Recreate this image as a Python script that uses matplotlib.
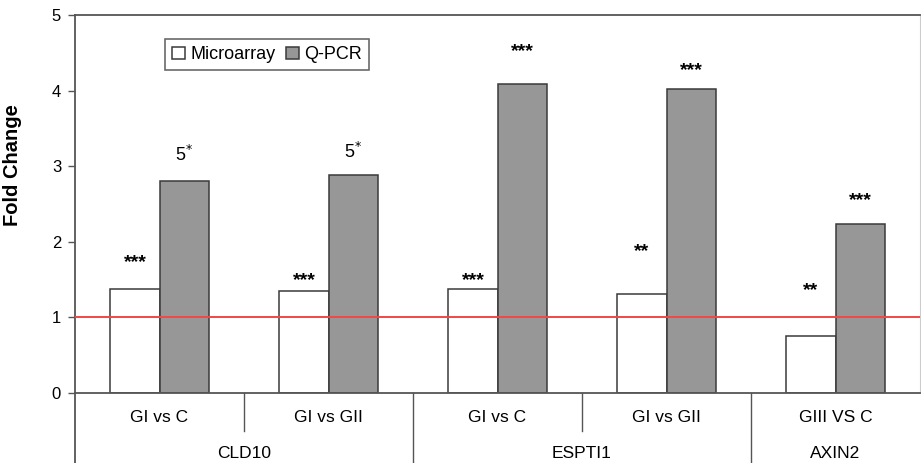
import matplotlib
matplotlib.use("Agg")
import matplotlib.pyplot as plt

plt.rcParams['font.family'] = ['Liberation Sans', 'DejaVu Sans']

# Données
genes = ['CLD10', 'ESPTI1', 'AXIN2']
genes_span = [2, 2, 1]
comparaisons = ['GI vs C', 'GI vs GII', 'GI vs C', 'GI vs GII', 'GIII VS C']
microarray = [1.38, 1.35, 1.37, 1.31, 0.76]
qpcr = [2.80, 2.88, 4.09, 4.02, 2.23]
sig_micro = ['***', '***', '***', '**', '**']
sig_qpcr = ['5$^{*}$', '5$^{*}$', '***', '***', '***']
# hauteurs des annotations (en unités de l'axe)
y_sig_micro = [1.80, 1.55, 1.55, 1.94, 1.43]
y_sig_qpcr = [3.15, 3.19, 4.59, 4.33, 2.61]

W, H = 921, 463
fig = plt.figure(figsize=(W / 100, H / 100), dpi=100)
ax = fig.add_axes([75 / W, (H - 393) / H, 845 / W, 378 / H])

largeur = 0.29
x = [i + 0.5 for i in range(len(comparaisons))]
x_micro = [c - largeur / 2 for c in x]
x_qpcr = [c + largeur / 2 for c in x]

ax.bar(x_micro, microarray, width=largeur, color='white', edgecolor='#3a3a3a',
       linewidth=1.1, label='Microarray', zorder=2)
ax.bar(x_qpcr, qpcr, width=largeur, color='#979797', edgecolor='#3a3a3a',
       linewidth=1.1, label='Q-PCR', zorder=2)

ax.axhline(1, color='#f04848', linewidth=1.4, zorder=3)

# étoiles : ligne de base décalée pour centrer l'astérisque sur la hauteur lue
for xm, ym, s in zip(x_micro, y_sig_micro, sig_micro):
    ax.annotate(s, (xm, ym), xytext=(0, -7), textcoords='offset points',
                ha='center', va='baseline', fontsize=14, fontweight='bold')
for xq, yq, s in zip(x_qpcr, y_sig_qpcr, sig_qpcr):
    if s.startswith('5'):
        ax.text(xq, yq, s, ha='center', va='center', fontsize=13)
    else:
        ax.annotate(s, (xq, yq), xytext=(0, -7), textcoords='offset points',
                    ha='center', va='baseline', fontsize=14, fontweight='bold')

ax.set_xlim(0, len(comparaisons))
ax.set_ylim(0, 5)
ax.set_yticks(range(6))
ax.tick_params(axis='y', direction='out', length=5, width=1, color='#555555',
               labelsize=12, pad=5)
ax.set_xticks([])
ax.set_ylabel('Fold Change', fontsize=14.5, fontweight='bold')
ax.yaxis.set_label_coords(-0.063, 0.603)

for cote in ['left', 'bottom', 'top']:
    ax.spines[cote].set_color('#555555')
    ax.spines[cote].set_linewidth(1.3)
ax.spines['right'].set_color('#cccccc')
ax.spines['right'].set_linewidth(0.8)

# axe catégoriel sous le graphique
trans = ax.get_xaxis_transform()
px = 1 / 378  # un pixel en unités d'axe verticales
for i, lab in enumerate(comparaisons):
    ax.text(i + 0.5, -25 * px, lab, transform=trans, ha='center', va='center',
            fontsize=12.5)
debut = 0
for g, n in zip(genes, genes_span):
    ax.text(debut + n / 2, -60 * px, g, transform=trans, ha='center',
            va='center', fontsize=12.5)
    for k in range(1, n):
        ax.plot([debut + k, debut + k], [0, -38 * px], transform=trans,
                color='#555555', linewidth=1, clip_on=False)
    debut += n
for sep in [0, 2, 4]:
    ax.plot([sep, sep], [0, -75 * px], transform=trans, color='#555555',
            linewidth=1.3 if sep == 0 else 1, clip_on=False)

leg = ax.legend(loc='upper left', bbox_to_anchor=(90 / 845, 1 - 24 / 378),
                ncol=2, fontsize=13, frameon=True, fancybox=False,
                handlelength=0.7, handleheight=0.7, handletextpad=0.3,
                columnspacing=0.6, borderpad=0.4, borderaxespad=0)
leg.get_frame().set_edgecolor('#444444')
leg.get_frame().set_linewidth(1.2)

fig.savefig('out.png', dpi=100)
